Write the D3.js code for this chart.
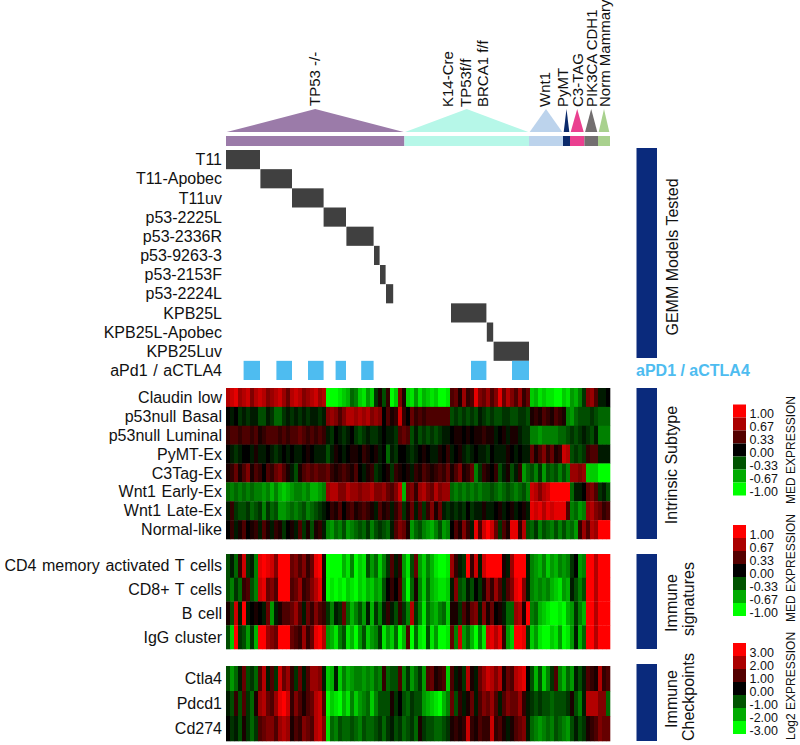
<!DOCTYPE html>
<html>
<head>
<meta charset="utf-8">
<script src="https://cdn.jsdelivr.net/npm/d3@7"></script>
<style>
  html, body { margin: 0; padding: 0; background: #fff; }
  text { font-family: "Liberation Sans", Arial, sans-serif; fill: #111; }
</style>
</head>
<body>
<div id="chart"></div>
<script>
// Model groups along the top (positions in heatmap columns, 96 columns in all)
var groupNames = ["TP53 -/-", "K14-Cre", "Wnt1", "PyMT", "C3-TAG", "PIK3CA CDH1", "Norm Mammary"];
var groupEdges = [0, 44.6, 75.75, 84.25, 86, 89.6, 93, 96];
var groupColors = ["#9b7ba9", "#b6f7e8", "#bcd3ec", "#0b2a6b", "#ea4090", "#736f70", "#a9d18e"];

// GEMM model rows
var modelNames = ["T11", "T11-Apobec", "T11uv", "p53-2225L", "p53-2336R", "p53-9263-3", "p53-2153F",
  "p53-2224L", "KPB25L", "KPB25L-Apobec", "KPB25Luv"];
var modelStart = [0, 8.6, 16.5, 24.4, 30.1, 37, 38.5, 40, 56.25, 65.2, 66.9];
var modelEnd = [8.5, 16.5, 24.4, 30, 36.9, 38.4, 39.9, 41.8, 65.1, 66.8, 75.75];

// aPd1 / aCTLA4 treated blocks
var treatedStart = [4.4, 12.6, 20.5, 27.4, 33.8, 61.25, 71.5];
var treatedEnd = [8.5, 16.5, 24.4, 30, 36.9, 65.1, 75.75];

// Heatmap rows, values in tenths of the colour range, 12 columns per line
var subtypeNames = ["Claudin low", "p53null Basal", "p53null Luminal", "PyMT-Ex", "C3Tag-Ex",
  "Wnt1 Early-Ex", "Wnt1 Late-Ex", "Normal-like"];
var claudinLow = [
  7,8,9,6,7,8,5,7,8,7,5,6,
  7,8,6,4,7,8,7,5,6,7,8,6,
  7,-10,-10,-10,-9,-8,-7,-4,-5,-8,-9,-6,
  -8,-2,1,-3,2,-10,-8,5,1,-8,-9,-6,
  -9,-7,-8,-9,-8,-10,-10,-9,3,4,1,6,
  2,3,9,5,4,6,3,5,9,4,7,5,
  3,6,2,4,-8,-7,-9,-8,-9,-9,-10,-10,
  -8,-9,-6,-7,-5,-2,5,6,3,-1,-1,0];
var p53Basal = [
  0,-1,0,-2,-1,-2,-1,-1,-3,-3,-1,-2,
  -4,-4,-2,-1,-2,-1,-2,-1,-2,-1,-1,-2,
  -1,5,6,5,3,5,7,7,6,7,6,7,
  5,6,5,0,3,1,2,8,2,0,4,2,
  3,2,3,3,3,3,3,3,-3,-2,-3,-2,
  -3,-2,-3,-1,-2,-3,-2,-3,-3,-2,-2,-3,
  -3,-2,-2,-3,1,2,1,3,2,1,3,2,
  1,-5,-6,-4,-3,-3,-3,-2,-3,-4,-4,-4];
var p53Luminal = [
  2,3,3,2,3,3,2,3,1,2,3,3,
  3,2,3,2,3,3,4,3,2,3,2,3,
  2,-1,-2,0,-1,-2,-1,0,-2,-3,-2,-1,
  -2,-2,-1,0,-1,-1,-2,3,4,3,-3,-1,
  -3,-2,-3,-2,-3,-2,-1,-1,0,1,1,0,
  1,0,1,1,2,1,1,-1,0,1,-1,1,
  1,-1,-2,-2,-5,-5,-6,-5,-5,-5,-5,-4,
  -4,-3,-2,-3,-2,-1,-2,-3,-1,-5,-5,-5];
var pymtEx = [
  0,-1,-2,-1,0,0,-1,1,-1,-1,0,-1,
  -2,-1,0,-1,0,-1,-1,0,1,0,-1,-1,
  -1,-3,-1,1,0,-1,0,1,1,0,2,1,
  0,1,-1,0,-4,-1,-2,0,0,-1,-2,-1,
  0,1,0,-1,-1,1,0,2,-1,0,1,-1,
  -2,-1,0,-1,-1,-2,0,-1,-1,-1,1,0,
  -1,0,-1,-1,4,1,3,5,2,4,1,2,
  8,7,-3,-2,-3,-2,2,3,3,-1,-1,-1];
var c3tagEx = [
  1,2,4,1,3,5,1,3,2,0,3,2,
  4,5,3,1,-1,-3,1,3,4,3,4,3,
  3,4,2,1,2,3,2,1,3,0,-1,1,
  2,-2,-1,0,1,-2,2,1,0,1,-1,2,
  1,3,2,1,2,3,2,4,1,3,5,1,
  2,4,-5,-2,2,1,0,2,-3,-1,1,-3,
  -1,2,-6,-4,-3,-5,-2,-6,-3,-4,-3,-5,
  -3,-5,6,6,5,6,-8,-8,-8,-10,-10,-10];
var wnt1Early = [
  -4,-5,-4,-5,-4,-5,-4,-5,-5,-6,-5,-7,
  -5,-7,-8,-7,-6,-5,-5,-6,-5,-7,-7,-6,
  -5,6,7,7,5,5,7,6,6,5,6,6,
  7,5,5,6,4,3,5,8,-7,4,5,2,
  6,7,5,4,7,5,6,6,-4,-5,-4,-5,
  -4,-5,-4,-5,-4,-4,-3,-4,-5,-4,-3,-4,
  -5,-4,-3,-5,8,7,5,7,8,10,10,10,
  10,10,-4,-1,-1,0,4,5,3,-2,-1,-3];
var wnt1Late = [
  -1,2,-2,-3,-3,-2,-4,-3,-2,-5,-2,-4,
  -3,-6,-6,-5,-4,-5,-4,-3,-5,-4,-3,-2,
  -1,0,2,1,3,0,2,3,1,2,3,2,
  1,-1,3,1,2,-1,2,4,-2,1,4,-1,
  3,-2,2,5,1,4,-1,-2,-1,-2,-1,-2,
  0,-2,-1,-1,1,-1,-1,0,1,-1,0,1,
  -1,0,1,-1,9,8,9,7,9,8,9,9,
  9,3,-5,-4,-6,-5,6,7,5,4,2,3];
var normalLike = [
  0,2,-1,1,3,0,1,2,-1,3,1,-1,
  2,1,-2,0,1,-1,3,-2,1,-3,1,2,
  -1,-5,-6,-4,-5,-3,-6,-5,-4,-3,-4,-2,
  -5,-3,-2,-3,-4,-1,3,5,4,1,-6,-4,
  -3,-5,-6,-7,-5,-3,-6,-5,0,3,1,5,
  2,-1,9,3,8,10,8,4,-2,3,1,9,
  9,2,7,-3,-4,-2,-5,-3,-4,-5,-3,-5,
  -3,-5,-4,-6,2,6,3,7,6,10,10,10];

var immuneNames = ["CD4 memory activated T cells", "CD8+ T cells", "B cell", "IgG cluster"];
var cd4Memory = [
  -3,-1,-4,2,8,-2,-1,-5,9,10,9,8,
  5,10,10,10,4,5,3,5,2,4,9,10,
  1,-10,-10,-10,-10,-7,-9,-5,-10,-8,-9,-3,
  -6,-4,-8,-5,-2,3,-1,2,-6,-9,-3,4,
  -6,-8,-5,-7,-9,-10,-10,-9,6,2,-1,-2,
  10,2,8,-1,8,10,10,10,10,1,-1,6,
  10,10,10,-1,-5,-6,-7,-5,-8,-6,-7,-5,
  -6,-5,-2,0,-6,-5,10,10,7,10,10,10];
var cd8Cells = [
  -3,-5,-2,-4,2,3,-3,-5,8,9,4,5,
  3,10,10,10,3,4,6,2,3,5,7,9,
  1,-10,-9,-10,-9,-10,-8,-9,-10,-8,-9,-7,
  -8,-6,-7,-3,0,2,0,3,-5,-10,-4,1,
  -5,-8,-4,-7,-8,-9,-9,-8,-1,5,-3,-4,
  -1,-3,0,-2,1,5,2,6,3,-1,3,5,
  9,10,5,-1,-5,-6,-5,-6,-5,-7,-8,-9,
  -6,-7,-1,-3,-5,-3,10,10,7,10,10,10];
var bCell = [
  1,-3,8,-1,10,-1,0,1,0,-1,4,-6,
  -1,1,3,3,4,6,3,-1,4,2,5,3,
  2,-2,-5,-1,-2,4,-4,-7,-5,-3,-6,-1,
  -7,-2,-5,-1,2,-1,-3,2,-2,-5,7,-2,
  -5,-9,-4,-6,-7,-5,-4,-8,1,1,-2,3,
  1,4,5,-1,5,1,4,0,1,-1,-4,-4,
  6,7,1,10,-5,-4,-7,-8,-9,-10,-10,-9,
  -10,-7,-6,-2,-5,-7,10,10,7,10,10,10];
var iggCluster = [
  -3,-8,10,-2,-3,-6,-2,-7,10,10,6,5,
  4,10,10,10,4,3,2,6,2,4,9,10,
  7,-6,-7,-9,-5,-3,-9,-7,-10,-6,-3,-8,
  -6,-5,-2,-9,-6,-8,-4,-10,-7,3,-10,-4,
  -9,-10,-3,-9,-6,-10,-10,-9,4,-5,8,-6,
  -4,-7,-10,-5,-9,8,9,7,9,2,-6,-8,
  10,10,9,-2,-8,-6,-9,-10,-10,-8,-9,-6,
  -10,-9,-6,-1,-7,-4,10,10,7,10,10,10];

var checkpointNames = ["Ctla4", "Pdcd1", "Cd274"];
var ctla4 = [
  -3,-6,-4,-1,4,-3,-2,-4,3,7,-1,3,
  -2,8,4,6,2,-2,4,-1,3,6,6,5,
  -1,-8,-7,-1,-8,-5,-7,-6,-5,-5,-6,-5,
  -6,-4,-5,2,-4,-3,-3,3,-5,-2,-6,-4,
  -2,-6,3,4,1,2,3,-8,3,-1,1,-2,
  7,1,-1,4,6,8,7,5,7,1,4,3,
  7,8,9,0,-3,-7,-3,-8,-5,-2,3,-5,
  -7,-4,-6,-1,-3,-1,3,2,1,7,2,3];
var pdcd1 = [
  -1,-3,2,-3,3,-2,-4,1,6,7,4,3,
  6,9,10,8,2,5,3,1,3,4,7,8,
  3,-10,-8,-9,-10,-7,-9,-5,-8,-6,-5,-4,
  -8,-5,-3,-3,-3,1,-2,0,-3,-4,-2,-3,
  -3,-6,-7,-8,-9,-10,-7,-5,4,-3,2,-1,
  1,4,-1,3,5,4,6,3,-1,3,5,4,
  4,6,2,-1,-2,-3,-2,-3,-3,-4,-3,-3,
  -3,-2,1,-3,-5,-1,7,7,7,5,5,-4];
var cd274 = [
  0,-2,-1,-3,1,-2,-4,-2,3,4,5,5,
  3,6,7,6,1,3,2,5,4,3,7,8,
  5,-9,-4,-5,-3,-4,-4,-3,-4,-5,-3,-4,
  -4,-3,-2,-4,-2,-1,-3,-2,-4,-3,-2,-4,
  1,-2,-3,-3,-4,-4,-3,-2,1,2,1,2,
  8,2,1,3,2,2,8,2,3,1,-1,1,
  3,4,5,-1,-4,-5,-6,-5,-4,-5,-3,-4,
  -5,-6,-3,-1,-3,-2,1,2,3,5,4,4];

// Legend tick labels
var medTicks = ["1.00", "0.67", "0.33", "0.00", "-0.33", "-0.67", "-1.00"];
var log2Ticks = ["3.00", "2.00", "1.00", "0.00", "-1.00", "-2.00", "-3.00"];
var legendLevels = [10, 6.7, 3.3, 0, -3.3, -6.7, -10];

var width = 800;
var height = 745;
var nCols = 96;
var navy = "#0a2a7c";
var skyBlue = "#4ebcf0";
var labelRight = 222;
var labelSize = 16;

var svg = d3.select("#chart")
    .append("svg")
    .attr("width", width)
    .attr("height", height)
    .style("display", "block");

var xScale = d3.scaleLinear().domain([0, nCols]).range([226, 610]);
var colorScale = d3.scaleLinear().domain([-10, 0, 10]).range(["#00ff00", "#000000", "#ff0000"]);

// Top triangles and group bar
var groupData = groupNames.map(function(name, i) {
    return { name: name, x0: groupEdges[i], x1: groupEdges[i + 1], color: groupColors[i] };
});

svg.append("g").selectAll("path")
    .data(groupData)
    .enter()
    .append("path")
    .attr("d", function(d) {
        var left = xScale(d.x0) + 0.7;
        var right = xScale(d.x1) - 0.7;
        return d3.line()([[left, 132], [(left + right) / 2, 109], [right, 132]]) + "Z";
    })
    .attr("fill", function(d) { return d.color; });

svg.append("g").selectAll("rect")
    .data(groupData)
    .enter()
    .append("rect")
    .attr("x", function(d) { return xScale(d.x0); })
    .attr("y", 136)
    .attr("width", function(d) { return xScale(d.x1) - xScale(d.x0); })
    .attr("height", 10)
    .attr("fill", function(d) { return d.color; });

// Rotated text helper, anchored at its bottom end
function sideText(x, y, str, size, anchor) {
    return svg.append("text")
        .attr("transform", "translate(" + x + "," + y + ")rotate(-90)")
        .attr("text-anchor", anchor || "start")
        .attr("font-size", size)
        .text(str);
}

var topLabels = ["TP53 -/-", "K14-Cre", "TP53f/f", "BRCA1 f/f", "Wnt1", "PyMT", "C3-TAG", "PIK3CA CDH1", "Norm Mammary"];
var topLabelX = [320, 453, 471, 488, 550, 568, 583, 597, 610];
var topLabelY = [106, 107, 107, 107, 107, 107, 107, 107, 107];
topLabels.forEach(function(str, i) {
    sideText(topLabelX[i], topLabelY[i], str, 15);
});

// Model rows
var modelScale = d3.scaleBand()
    .domain(modelNames.concat(["aPd1 / aCTLA4"]))
    .range([150, 380]);

var rowText = svg.append("g");
function rowLabels(names, scale, size) {
    rowText.append("g").selectAll("text")
        .data(names)
        .enter()
        .append("text")
        .attr("x", labelRight)
        .attr("y", function(d) { return scale(d) + scale.bandwidth() / 2; })
        .attr("dy", "0.35em")
        .attr("text-anchor", "end")
        .attr("font-size", size)
        .style("word-spacing", "1.2px")
        .text(function(d) { return d; });
}
rowLabels(modelScale.domain(), modelScale, labelSize);

svg.append("g").selectAll("rect")
    .data(modelNames)
    .enter()
    .append("rect")
    .attr("x", function(d, i) { return xScale(modelStart[i]); })
    .attr("y", function(d) { return modelScale(d); })
    .attr("width", function(d, i) { return xScale(modelEnd[i]) - xScale(modelStart[i]); })
    .attr("height", modelScale.bandwidth())
    .attr("fill", "#404040");

svg.append("g").selectAll("rect")
    .data(treatedStart)
    .enter()
    .append("rect")
    .attr("x", function(d) { return xScale(d); })
    .attr("y", modelScale("aPd1 / aCTLA4"))
    .attr("width", function(d, i) { return xScale(treatedEnd[i]) - xScale(d); })
    .attr("height", modelScale.bandwidth())
    .attr("fill", skyBlue);

// Heatmap blocks, softened a little like the original raster
function drawHeat(names, rows, top, bottom) {
    var yScale = d3.scaleBand().domain(names).range([top, bottom]);
    rowLabels(names, yScale, labelSize);
    svg.append("g")
        .style("filter", "blur(0.5px)")
        .selectAll("g")
        .data(rows)
        .enter()
        .append("g")
        .attr("transform", function(d, i) { return "translate(0," + yScale(names[i]) + ")"; })
        .selectAll("rect")
        .data(function(d) { return d; })
        .enter()
        .append("rect")
        .attr("x", function(d, i) { return xScale(i); })
        .attr("width", xScale(1) - xScale(0) + 0.3)
        .attr("height", yScale.bandwidth() + 0.3)
        .attr("fill", function(d) { return colorScale(d); });
}
drawHeat(subtypeNames, [claudinLow, p53Basal, p53Luminal, pymtEx, c3tagEx, wnt1Early, wnt1Late, normalLike], 388, 539);
drawHeat(immuneNames, [cd4Memory, cd8Cells, bCell, iggCluster], 554, 649);
drawHeat(checkpointNames, [ctla4, pdcd1, cd274], 666, 741);

// Navy side bars
var sideTops = [148, 388, 554, 664];
var sideBottoms = [358, 539, 649, 741];
svg.append("g").selectAll("rect")
    .data(sideTops)
    .enter()
    .append("rect")
    .attr("x", 636.5)
    .attr("y", function(d) { return d; })
    .attr("width", 20.5)
    .attr("height", function(d, i) { return sideBottoms[i] - d; })
    .attr("fill", navy);

sideText(678, 257, "GEMM Models Tested", 16, "middle");
sideText(677, 465, "Intrinsic Subtype", 16, "middle");
sideText(677, 603, "Immune", 16, "middle");
sideText(694, 599, "signatures", 16, "middle");
sideText(677, 699, "Immune", 16, "middle");
sideText(694, 697, "Checkpoints", 16, "middle");

svg.append("text")
    .attr("x", 636)
    .attr("y", 376)
    .attr("font-size", 16)
    .attr("font-weight", "bold")
    .style("fill", skyBlue)
    .text("aPD1 / aCTLA4");

// Colour legends
function drawLegend(top, ticks, title, titleY) {
    var legendScale = d3.scaleBand().domain(ticks).range([top, top + 91]);
    var g = svg.append("g");
    g.selectAll("rect")
        .data(ticks)
        .enter()
        .append("rect")
        .attr("x", 733)
        .attr("y", function(d) { return legendScale(d); })
        .attr("width", 13)
        .attr("height", legendScale.bandwidth())
        .attr("fill", function(d, i) { return colorScale(legendLevels[i]); });
    g.selectAll("text")
        .data(ticks)
        .enter()
        .append("text")
        .attr("x", 749.5)
        .attr("y", function(d) { return legendScale(d) + legendScale.bandwidth() / 2 + 3; })
        .attr("dy", "0.35em")
        .attr("font-size", 12.5)
        .text(function(d) { return d; });
    sideText(795, titleY, title, 12);
}
drawLegend(404.5, medTicks, "MED EXPRESSION", 504);
drawLegend(525, medTicks, "MED EXPRESSION", 622);
drawLegend(643, log2Ticks, "Log2 EXPRESSION", 740);
</script>
</body>
</html>
